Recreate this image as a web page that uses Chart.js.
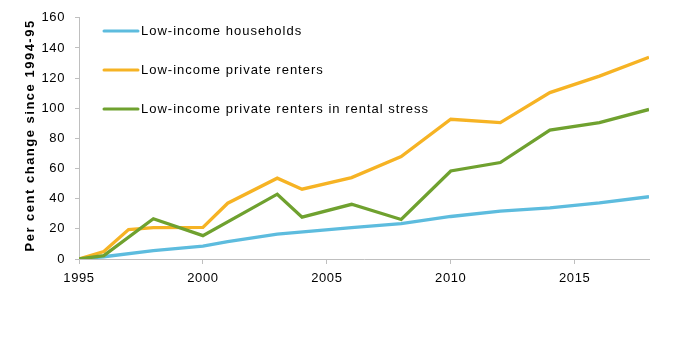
<!DOCTYPE html>
<html>
<head>
<meta charset="utf-8">
<script src="https://cdn.jsdelivr.net/npm/chart.js@4/dist/chart.umd.min.js"></script>
<style>
  html, body { margin: 0; padding: 0; background: #fff; }
  #wrap { width: 692px; height: 337px; position: relative; }
</style>
</head>
<body>
<div id="wrap"><canvas id="c" width="692" height="337"></canvas></div>
<script>
// Survey years (financial years, plotted at ending year)
const years = [1995, 1996, 1997, 1998, 2000, 2001, 2003, 2004, 2006, 2008, 2010, 2012, 2014, 2016, 2018];

// Per cent change since 1994-95 (null = no separate reading in that year)
const lowIncomeHouseholds = [0, 1.5, null, 5.5, 8.5, 11.5, 16.5, null, 20.8, 23.4, 28.2, 31.7, 33.9, 37.2, 41.3];
const lowIncomeRenters = [0, 5, 19.5, 20.8, 21, 37, 53.6, 46.3, 54, 68, 92.7, 90.5, 110.4, 121.3, 133.8];
const rentersInStress = [0, 2.2, null, 26.7, 15.5, null, 43, 27.8, 36.3, 26.2, 58.4, 64, 85.5, 90.5, 99.2];

const seriesLabels = [
  'Low-income households',
  'Low-income private renters',
  'Low-income private renters in rental stress'
];
const seriesColors = ['#5DBCDE', '#F6B324', '#6FA12F'];

const yTicks = [0, 20, 40, 60, 80, 100, 120, 140, 160];
const xTicks = [1995, 2000, 2005, 2010, 2015];

const toPoints = vals => years.map((yr, i) => ({ x: yr, y: vals[i] }));

const FONT = '"Liberation Sans", Arial, sans-serif';
const AXIS_GREY = '#BFBFBF';

// Slightly tracked-out text, applied to every text draw and measurement
const tracking = {
  id: 'tracking',
  beforeLayout(chart) { chart.ctx.letterSpacing = '0.6px'; },
  beforeDraw(chart) { chart.ctx.letterSpacing = '0.6px'; }
};

// Vertical axis title drawn by hand so its tracking can differ
const yTitle = {
  id: 'yTitle',
  afterDraw(chart) {
    const ctx = chart.ctx;
    const area = chart.chartArea;
    ctx.save();
    ctx.letterSpacing = '1.5px';
    ctx.font = 'bold 13px ' + FONT;
    ctx.fillStyle = '#000';
    ctx.textAlign = 'center';
    ctx.textBaseline = 'middle';
    ctx.translate(30, (area.top + area.bottom) / 2 - 3);
    ctx.rotate(-Math.PI / 2);
    ctx.fillText('Per cent change since 1994-95', 0, 0);
    ctx.restore();
  }
};

// Legend drawn inside the plot area, stacked vertically
const insideLegend = {
  id: 'insideLegend',
  afterDatasetsDraw(chart) {
    const ctx = chart.ctx;
    const x0 = 104, x1 = 138, rowTop = 31, rowGap = 39;
    ctx.save();
    ctx.letterSpacing = '1px';
    ctx.font = '13px ' + FONT;
    ctx.textBaseline = 'middle';
    ctx.textAlign = 'left';
    chart.data.datasets.forEach((ds, i) => {
      const y = rowTop + i * rowGap;
      ctx.strokeStyle = ds.borderColor;
      ctx.lineWidth = 3;
      ctx.lineCap = 'round';
      ctx.beginPath();
      ctx.moveTo(x0, y);
      ctx.lineTo(x1, y);
      ctx.stroke();
      ctx.fillStyle = '#000';
      ctx.fillText(ds.label, x1 + 3, y);
    });
    ctx.restore();
  }
};

const datasets = [lowIncomeHouseholds, lowIncomeRenters, rentersInStress].map((vals, i) => ({
  label: seriesLabels[i],
  data: toPoints(vals),
  borderColor: seriesColors[i],
  backgroundColor: seriesColors[i],
  borderWidth: 3.3,
  pointRadius: 0,
  tension: 0,
  spanGaps: true,
  order: 2 - i
}));

new Chart(document.getElementById('c'), {
  type: 'line',
  data: { datasets },
  options: {
    responsive: false,
    animation: false,
    layout: { padding: { top: 15, right: 43, bottom: 0, left: 0 } },
    plugins: { legend: { display: false }, tooltip: { enabled: false } },
    scales: {
      x: {
        type: 'linear',
        min: 1995,
        max: 2018,
        afterBuildTicks: s => { s.ticks = xTicks.map(v => ({ value: v })); },
        afterFit: s => { s.height = 78; },
        ticks: {
          font: { family: FONT, size: 13 },
          color: '#000',
          maxRotation: 0,
          padding: 7,
          callback: v => String(v)
        },
        grid: { drawOnChartArea: false, drawTicks: true, tickLength: 5, color: AXIS_GREY },
        border: { color: AXIS_GREY, width: 1 }
      },
      y: {
        min: 0,
        max: 160,
        afterBuildTicks: s => { s.ticks = yTicks.map(v => ({ value: v })); },
        afterFit: s => { s.width = 79; },
        ticks: {
          font: { family: FONT, size: 13 },
          color: '#000',
          padding: 10,
          callback: v => String(v)
        },
        grid: { drawOnChartArea: false, drawTicks: true, tickLength: 4, color: AXIS_GREY },
        border: { color: AXIS_GREY, width: 1 }
      }
    }
  },
  plugins: [tracking, insideLegend, yTitle]
});
</script>
</body>
</html>
